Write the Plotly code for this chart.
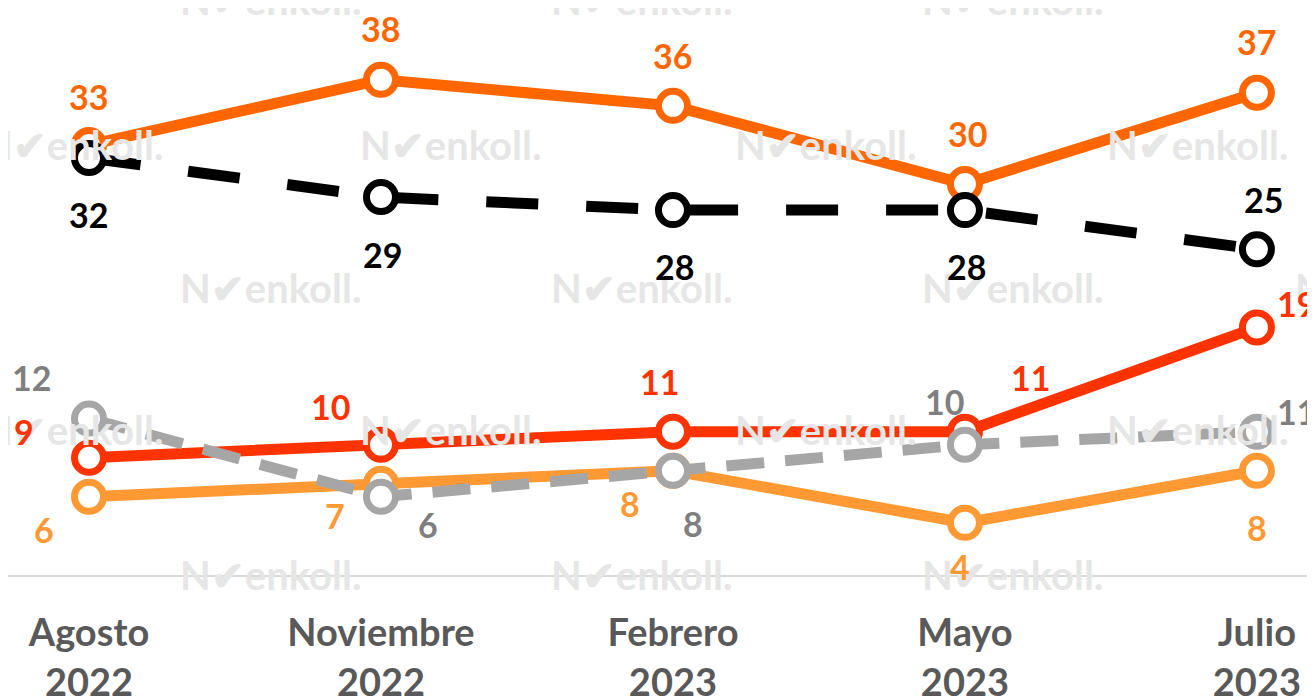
import plotly.graph_objects as go

categories = ["Agosto<br>2022", "Noviembre<br>2022", "Febrero<br>2023", "Mayo<br>2023", "Julio<br>2023"]
serie_naranja = [33, 38, 36, 30, 37]
serie_negra = [32, 29, 28, 28, 25]
serie_roja = [9, 10, 11, 11, 19]
serie_gris = [12, 6, 8, 10, 11]
serie_naranja_claro = [6, 7, 8, 4, 8]

FONT = "Lato"
W, H = 1307, 691  # page body adds an 8px margin

series = [
    # values, line color, label color, dash, label offsets (xshift, yshift)
    (serie_naranja, "#FF6600", "#FF6600", "solid",
     [(0, 48), (0, 51), (0, 50), (3, 51), (0, 51)]),
    (serie_negra, "#000000", "#000000", "52px,48px",
     [(0, -57), (2, -57), (2, -56), (2, -56), (7, 50)]),
    (serie_naranja_claro, "#FF9933", "#FF9933", "solid",
     [(-45, -33), (-46, -32), (-43, -33), (-5, -44), (0, -57)]),
    (serie_roja, "#FF3300", "#FF3300", "solid",
     [(-65, 26), (-50, 38), (-13, 50), (66, 54), (40, 24)]),
    (serie_gris, "#A6A6A6", "#7F7F7F", "38px,21px",
     [(-57, 41), (47, -28), (20, -53), (-20, 43), (40, 20)]),
]

fig = go.Figure()
annotations = []

# watermark grid
wm_rows = [
    (0, [270, 641, 1012]),
    (145, [72, 450, 825, 1197]),
    (288, [270, 641, 1012, 1385]),
    (430, [72, 450, 825, 1197]),
    (575, [270, 641, 1012]),
]
for py, xs in wm_rows:
    for px in xs:
        annotations.append(dict(
            x=(px - 8) / W, y=(575 - py) / 567, xref="paper", yref="paper",
            text="<b>N\u2714enkoll.</b>", showarrow=False,
            font=dict(family=FONT, size=40, color="#E6E6E6"),
            xanchor="center", yanchor="middle"))

for vals, lc, tc, dash, offs in series:
    fig.add_trace(go.Scatter(
        x=categories, y=vals, mode="lines+markers",
        line=dict(color=lc, width=11, dash=dash),
        marker=dict(symbol="circle", size=29, color="white",
                    line=dict(color=lc, width=7)),
        cliponaxis=False, showlegend=False, hoverinfo="skip"))
    for c, v, (dx, dy) in zip(categories, vals, offs):
        annotations.append(dict(
            x=c, y=v, xref="x", yref="y", text="<b>%d</b>" % v,
            showarrow=False, xshift=dx, yshift=dy,
            font=dict(family=FONT, size=34, color=tc),
            xanchor="center", yanchor="middle"))

fig.update_layout(
    width=W, height=H,
    margin=dict(l=0, r=0, t=0, b=124, autoexpand=False),
    paper_bgcolor="white", plot_bgcolor="white",
    annotations=annotations,
    xaxis=dict(
        type="category", range=[-0.2774, 4.199], automargin=False,
        showgrid=False, zeroline=False,
        showline=True, linecolor="#D9D9D9", linewidth=1.5,
        ticks="", tickfont=dict(family=FONT, size=38, color="#595959"),
        ticklabelstandoff=24,
    ),
    yaxis=dict(range=[0, 43.51], visible=False, showgrid=False, zeroline=False,
               automargin=False),
)
fig.update_xaxes(ticktext=["<b>%s</b>" % c for c in categories], tickvals=categories)

fig.write_html("out.html")
